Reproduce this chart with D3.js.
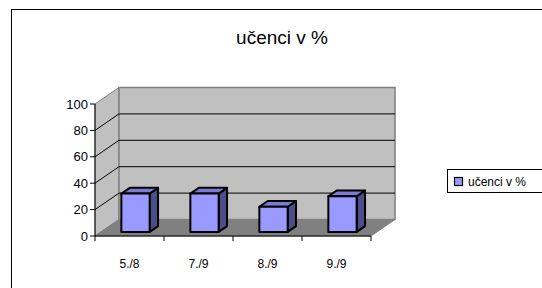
<!DOCTYPE html>
<html><head><meta charset="utf-8">
<script src="https://cdn.jsdelivr.net/npm/d3@7"></script>
<style>body{margin:0;background:#fff}svg{display:block}text{font-family:"Liberation Sans",Arial,sans-serif}</style>
</head><body>
<svg id="c" width="542" height="288"></svg>
<script>
const categories = ["5./8", "7./9", "8./9", "9./9"];
const values = [29, 29, 19, 27];
const yTicks = [0, 20, 40, 60, 80, 100];
const title = "učenci v %";
const seriesName = "učenci v %";

const svg = d3.select("#c");
const W = 542, H = 288;
// chart border
svg.append("rect").attr("x", 11.5).attr("y", 9.5).attr("width", 560).attr("height", 300)
  .attr("fill", "#fff").attr("stroke", "#000");

const x0 = 95, x1 = 371, yBase = 236, yTop = 104;
const DX = 24, DY = -16.5;
const P = (x, y, d) => [x + d * DX, y + d * DY];

const x = d3.scaleBand().domain(categories).range([x0, x1]).padding(0);
const y = d3.scaleLinear().domain([0, 100]).range([yBase, yTop]);
const g = svg.append("g");
const poly = pts => pts.map(p => p.join(",")).join(" ");

// side wall
g.append("polygon").attr("points", poly([P(x0, y(0), 0), P(x0, y(100), 0), P(x0, y(100), 1), P(x0, y(0), 1)]))
  .attr("fill", "#c0c0c0").attr("stroke", "#808080").attr("stroke-width", 1);
// back wall
g.append("polygon").attr("points", poly([P(x0, y(0), 1), P(x0, y(100), 1), P(x1, y(100), 1), P(x1, y(0), 1)]))
  .attr("fill", "#c0c0c0").attr("stroke", "#808080").attr("stroke-width", 1.5);
// gridlines
yTicks.filter(t => t > 0 && t < 100).forEach(t => {
  const a = P(x0, y(t), 0), b = P(x0, y(t), 1), c = P(x1, y(t), 1);
  g.append("polyline").attr("points", poly([a, b, c])).attr("fill", "none").attr("stroke", "#000").attr("stroke-width", 1);
});
// floor
g.append("polygon").attr("points", poly([P(x0, y(0), 0), P(x1, y(0), 0), P(x1, y(0), 1), P(x0, y(0), 1)]))
  .attr("fill", "#808080").attr("stroke", "#808080").attr("stroke-width", 1);

// bars
const bw = x.step() * 0.41, d0 = 0.25, d1 = 0.6;
categories.forEach((c, i) => {
  const v = values[i];
  const xl = x(c) + (x.bandwidth() - bw) / 2, xr = xl + bw;
  const yb = y(0), yt = y(v);
  const bar = g.append("g").attr("stroke", "#000").attr("stroke-width", 2).attr("stroke-linejoin", "round");
  // side face
  bar.append("polygon").attr("points", poly([P(xr, yb, d0), P(xr, yt, d0), P(xr, yt, d1), P(xr, yb, d1)])).attr("fill", "#4d4d8a");
  // top face
  bar.append("polygon").attr("points", poly([P(xl, yt, d0), P(xl, yt, d1), P(xr, yt, d1), P(xr, yt, d0)])).attr("fill", "#7b7bd6");
  // front face
  bar.append("polygon").attr("points", poly([P(xl, yb, d0), P(xl, yt, d0), P(xr, yt, d0), P(xr, yb, d0)])).attr("fill", "#9999ff");
});

// y axis
g.append("line").attr("x1", x0).attr("x2", x0).attr("y1", y(0)).attr("y2", y(100)).attr("stroke", "#000");
yTicks.forEach(t => {
  g.append("line").attr("x1", x0 - 5).attr("x2", x0).attr("y1", y(t)).attr("y2", y(t)).attr("stroke", "#000");
  g.append("text").attr("x", x0 - 7).attr("y", y(t) + 4.5).attr("text-anchor", "end").attr("font-size", 13).text(t);
});
// x axis
g.append("line").attr("x1", x0).attr("x2", x1).attr("y1", y(0)).attr("y2", y(0)).attr("stroke", "#000");
const bounds = categories.map(c => x(c)).concat([x1]);
bounds.forEach(b => g.append("line").attr("x1", b).attr("x2", b).attr("y1", y(0)).attr("y2", y(0) + 5).attr("stroke", "#000"));
categories.forEach(c => g.append("text").attr("x", x(c) + x.bandwidth() / 2).attr("y", 268)
  .attr("text-anchor", "middle").attr("font-size", 12).text(c));

// title
svg.append("text").attr("x", 282).attr("y", 44).attr("text-anchor", "middle").attr("font-size", 19).text(title);

// legend
svg.append("rect").attr("x", 447.5).attr("y", 169.5).attr("width", 120).attr("height", 23).attr("fill", "#fff").attr("stroke", "#000");
svg.append("rect").attr("x", 454.5).attr("y", 177.5).attr("width", 8).attr("height", 8).attr("fill", "#9999ff").attr("stroke", "#000").attr("stroke-width", 1.2);
svg.append("text").attr("x", 468).attr("y", 186).attr("font-size", 12).text(seriesName);
</script>
</body></html>
